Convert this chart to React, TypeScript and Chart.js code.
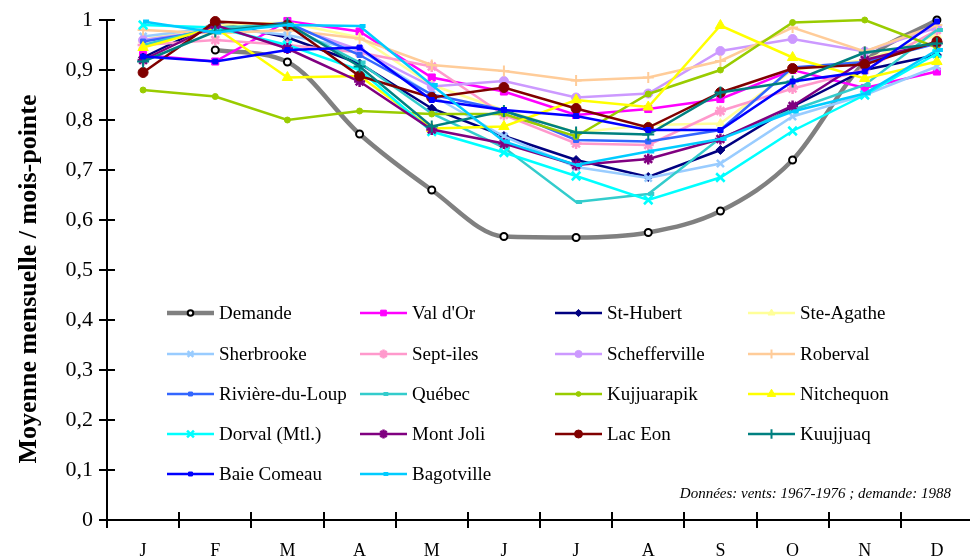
import React, { useEffect, useRef } from 'react';
import { Chart, registerables } from 'chart.js';
import { drawPoint } from 'chart.js/helpers';

Chart.register(...registerables);

const months = ['J', 'F', 'M', 'A', 'M', 'J', 'J', 'A', 'S', 'O', 'N', 'D'];
const yTickValues = [0, 0.1, 0.2, 0.3, 0.4, 0.5, 0.6, 0.7, 0.8, 0.9, 1];

const demande = [null, 0.94, 0.916, 0.772, 0.66, 0.567, 0.565, 0.575, 0.618, 0.72, 0.916, 1.0];
const valDOr = [0.93, 0.917, 0.998, 0.977, 0.885, 0.857, 0.81, 0.822, 0.842, 0.9, 0.864, 0.897];
const stHubert = [0.925, 0.995, 0.965, 0.913, 0.823, 0.768, 0.72, 0.686, 0.74, 0.827, 0.9, 0.93];
const steAgathe = [0.96, 0.99, 0.995, 0.965, 0.87, 0.82, 0.775, 0.79, 0.793, 0.9, 0.92, 0.97];
const sherbrooke = [0.967, 0.985, 0.97, 0.94, 0.85, 0.767, 0.706, 0.684, 0.713, 0.807, 0.85, 0.907];
const septIles = [0.95, 0.96, 0.95, 0.935, 0.907, 0.81, 0.753, 0.75, 0.818, 0.863, 0.9, 0.98];
const schefferville = [0.96, 0.98, 0.99, 0.94, 0.867, 0.878, 0.845, 0.853, 0.938, 0.962, 0.937, 0.985];
const roberval = [0.98, 0.973, 0.98, 0.963, 0.91, 0.898, 0.879, 0.885, 0.918, 0.985, 0.937, 0.99];
const riviereDuLoup = [0.957, 0.98, 0.995, 0.93, 0.851, 0.82, 0.76, 0.757, 0.78, 0.905, 0.916, 0.953];
const quebec = [0.95, 0.985, 0.99, 0.915, 0.813, 0.745, 0.636, 0.652, 0.764, 0.82, 0.87, 0.98];
const kujjuarapik = [0.86, 0.847, 0.8, 0.818, 0.812, 0.812, 0.767, 0.852, 0.9, 0.995, 1.0, 0.945];
const nitchequon = [0.945, 0.985, 0.885, 0.888, 0.783, 0.787, 0.84, 0.826, 0.989, 0.925, 0.883, 0.917];
const dorval = [0.99, 0.985, 0.95, 0.9, 0.777, 0.735, 0.688, 0.64, 0.685, 0.778, 0.85, 0.933];
const montJoli = [0.92, 0.99, 0.943, 0.877, 0.781, 0.753, 0.71, 0.722, 0.762, 0.828, 0.92, 0.955];
const lacEon = [0.895, 0.997, 0.99, 0.888, 0.845, 0.865, 0.823, 0.785, 0.855, 0.903, 0.911, 0.957];
const kuujjuaq = [0.917, 0.977, 0.993, 0.907, 0.787, 0.818, 0.775, 0.771, 0.855, 0.877, 0.935, 0.953];
const baieComeau = [0.927, 0.917, 0.94, 0.945, 0.84, 0.82, 0.808, 0.78, 0.78, 0.877, 0.897, 0.997];
const bagotville = [0.997, 0.975, 0.99, 0.988, 0.87, 0.757, 0.71, 0.737, 0.762, 0.817, 0.853, 0.94];

const yTitle = 'Moyenne mensuelle / mois-pointe';
const noteText = 'Données: vents: 1967-1976 ; demande: 1988';

const SERIF = '"Liberation Serif", "Times New Roman", serif';

type Series = {
  label: string;
  data: (number | null)[];
  color: string;
  point: string;
  radius: number;
  bw: number;
  lw: number;
  bg?: string;
  pb?: string;
  smooth?: boolean;
};

const series: Series[] = [
  { label: 'Demande', data: demande, color: '#808080', point: 'circle', radius: 3.5, bw: 2, lw: 4.5, bg: '#ffffff', pb: '#000000', smooth: true },
  { label: "Val d'Or", data: valDOr, color: '#ff00ff', point: 'rect', radius: 5, bw: 1, lw: 2.5 },
  { label: 'St-Hubert', data: stHubert, color: '#000080', point: 'rectRot', radius: 4.5, bw: 1, lw: 2.5 },
  { label: 'Ste-Agathe', data: steAgathe, color: '#ffff99', point: 'triangle', radius: 5, bw: 1, lw: 2.5 },
  { label: 'Sherbrooke', data: sherbrooke, color: '#99ccff', point: 'crossRot', radius: 5, bw: 2.5, lw: 2.5 },
  { label: 'Sept-iles', data: septIles, color: '#ff99cc', point: 'star', radius: 5.5, bw: 2.5, lw: 2.5 },
  { label: 'Schefferville', data: schefferville, color: '#cc99ff', point: 'circle', radius: 4.5, bw: 1, lw: 2.5 },
  { label: 'Roberval', data: roberval, color: '#ffcc99', point: 'cross', radius: 5.5, bw: 2, lw: 2.5 },
  { label: 'Rivière-du-Loup', data: riviereDuLoup, color: '#3366ff', point: 'rect', radius: 3.5, bw: 1, lw: 2.5 },
  { label: 'Québec', data: quebec, color: '#33cccc', point: 'dash', radius: 6, bw: 4, lw: 2.5 },
  { label: 'Kujjuarapik', data: kujjuarapik, color: '#99cc00', point: 'circle', radius: 3, bw: 1, lw: 2.5 },
  { label: 'Nitchequon', data: nitchequon, color: '#ffff00', point: 'triangle', radius: 6, bw: 1, lw: 2.5 },
  { label: 'Dorval (Mtl.)', data: dorval, color: '#00ffff', point: 'crossRot', radius: 6, bw: 2.5, lw: 2.5 },
  { label: 'Mont Joli', data: montJoli, color: '#800080', point: 'star', radius: 5.5, bw: 2.5, lw: 2.5 },
  { label: 'Lac Eon', data: lacEon, color: '#800000', point: 'circle', radius: 5, bw: 1, lw: 2.5 },
  { label: 'Kuujjuaq', data: kuujjuaq, color: '#008080', point: 'cross', radius: 6, bw: 2, lw: 2.5 },
  { label: 'Baie Comeau', data: baieComeau, color: '#0000ff', point: 'rect', radius: 3.5, bw: 1, lw: 2.5 },
  { label: 'Bagotville', data: bagotville, color: '#00ccff', point: 'dash', radius: 6, bw: 4, lw: 2.5 },
];

const legendColsLineX = [167, 360, 555, 748];
const legendRowsY = [313, 354, 394, 434, 474];

function fmt(v: number) {
  const r = Math.round(v * 10) / 10;
  if (r === 0) return '0';
  if (r === 1) return '1';
  return r.toFixed(1).replace('.', ',');
}

const decor = {
  id: 'decor',
  afterDraw(chart: any) {
    const { ctx, chartArea, scales } = chart;
    const xs = scales.x;
    const ys = scales.y;
    ctx.save();
    ctx.strokeStyle = '#000';
    ctx.lineWidth = 2;
    ctx.beginPath();
    for (const v of yTickValues) {
      const py = Math.round(ys.getPixelForValue(v));
      ctx.moveTo(chartArea.left - 8, py);
      ctx.lineTo(chartArea.left + 8, py);
    }
    for (let i = 0; i <= months.length; i++) {
      const px = Math.round(xs.getPixelForValue(i - 0.5));
      ctx.moveTo(px, chartArea.bottom - 8);
      ctx.lineTo(px, chartArea.bottom + 8);
    }
    ctx.stroke();

    // y title
    ctx.save();
    ctx.translate(29, 279);
    ctx.rotate(-Math.PI / 2);
    ctx.font = `bold 26px ${SERIF}`;
    ctx.fillStyle = '#000';
    ctx.textAlign = 'center';
    ctx.textBaseline = 'middle';
    ctx.fillText(yTitle, 0, 0);
    ctx.restore();

    // legend
    series.forEach((s, i) => {
      const row = Math.floor(i / 4);
      const col = i % 4;
      const x1 = legendColsLineX[col];
      const x2 = x1 + 47;
      const y = legendRowsY[row];
      ctx.strokeStyle = s.color;
      ctx.lineWidth = s.lw;
      ctx.beginPath();
      ctx.moveTo(x1, y);
      ctx.lineTo(x2, y);
      ctx.stroke();
      ctx.fillStyle = s.bg || s.color;
      ctx.strokeStyle = s.pb || s.color;
      ctx.lineWidth = s.bw;
      drawPoint(ctx, { pointStyle: s.point as any, radius: s.radius * 0.8, rotation: 0, borderWidth: s.bw }, (x1 + x2) / 2, y);
      ctx.fillStyle = '#000';
      ctx.font = `19px ${SERIF}`;
      ctx.textAlign = 'left';
      ctx.textBaseline = 'middle';
      ctx.fillText(s.label, x2 + 5, y + 1);
    });

    // note
    ctx.fillStyle = '#000';
    ctx.font = `italic 15px ${SERIF}`;
    ctx.textAlign = 'right';
    ctx.textBaseline = 'middle';
    ctx.fillText(noteText, 951, 494);
    ctx.restore();
  },
};

export default function App() {
  const ref = useRef<HTMLCanvasElement | null>(null);
  useEffect(() => {
    if (!ref.current) return;
    const chart = new Chart(ref.current, {
      type: 'line',
      data: {
        labels: months,
        datasets: series.map((s, i) => ({
          label: s.label,
          data: s.data,
          borderColor: s.color,
          borderWidth: s.lw,
          backgroundColor: s.bg || s.color,
          pointBackgroundColor: s.bg || s.color,
          pointBorderColor: s.pb || s.color,
          pointBorderWidth: s.bw,
          pointStyle: s.point as any,
          pointRadius: s.radius,
          tension: s.smooth ? 0.4 : 0,
          cubicInterpolationMode: s.smooth ? 'monotone' : 'default',
          fill: false,
          clip: false as any,
          order: -i,
          spanGaps: false,
        })),
      },
      options: {
        responsive: false,
        maintainAspectRatio: false,
        animation: false,
        events: [],
        layout: { autoPadding: false, padding: { top: 20, left: 0, right: 0, bottom: 0 } },
        plugins: { legend: { display: false }, tooltip: { enabled: false } },
        scales: {
          x: {
            type: 'category',
            offset: true,
            grid: { display: true, drawOnChartArea: false, drawTicks: false, color: 'rgba(0,0,0,0)' },
            border: { display: true, color: '#000', width: 2 },
            ticks: { color: '#000', font: { family: SERIF, size: 18 }, padding: 20, maxRotation: 0, autoSkip: false },
            afterFit: (scale: any) => {
              scale.height = 39;
              scale.paddingLeft = 0;
              scale.paddingRight = 0;
            },
          },
          y: {
            min: 0,
            max: 1,
            grid: { display: true, drawOnChartArea: false, drawTicks: false, color: 'rgba(0,0,0,0)' },
            border: { display: true, color: '#000', width: 2 },
            ticks: { stepSize: 0.1, color: '#000', font: { family: SERIF, size: 22 }, padding: 14, callback: (v: any) => fmt(Number(v)) },
            afterFit: (scale: any) => {
              scale.width = 107;
              scale.paddingTop = 0;
              scale.paddingBottom = 0;
            },
          },
        },
      },
      plugins: [decor],
    });
    return () => chart.destroy();
  }, []);
  return (
    <div style={{ position: 'fixed', left: 0, top: 0, width: 970, height: 559, overflow: 'hidden', background: '#fff' }}>
      <canvas ref={ref} width={973} height={559} style={{ display: 'block', width: 973, height: 559 }} />
    </div>
  );
}
